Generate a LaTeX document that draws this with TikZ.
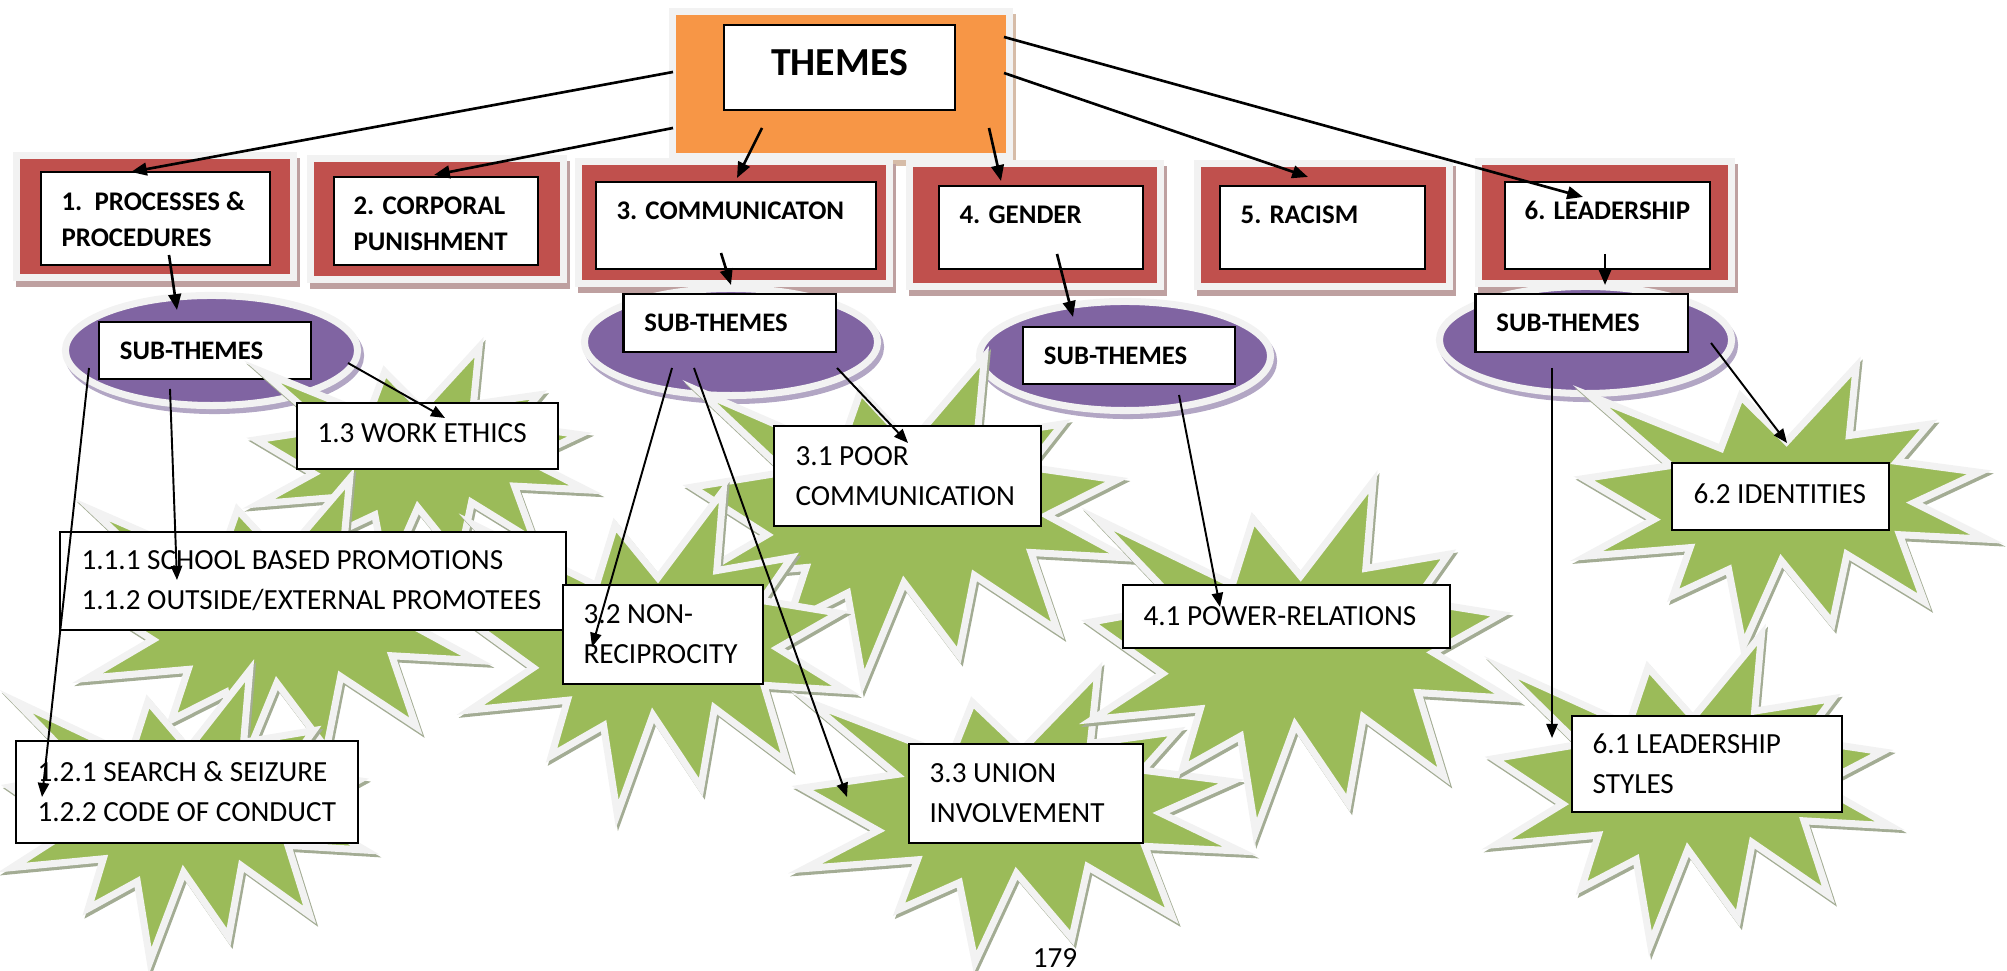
\documentclass[tikz,border=0pt]{standalone}
\usepackage{fontspec}
\setmainfont{Carlito}
\usepackage{xcolor}
\usepackage{tikz}
\usetikzlibrary{shapes.geometric, arrows.meta}
\definecolor{themecolor}{RGB}{247,150,70}
\definecolor{cellcolor}{RGB}{192,80,77}
\definecolor{subcolor}{RGB}{128,100,162}
\definecolor{burstcolor}{RGB}{155,187,89}
\definecolor{framecolor}{RGB}{242,242,242}
\definecolor{themeshade}{RGB}{214,188,168}
\definecolor{cellshade}{RGB}{190,160,160}
\definecolor{subshade}{RGB}{178,166,196}
\definecolor{burstshade}{RGB}{163,172,148}
\definecolor{flowcolor}{RGB}{0,0,0}

% explosion outline in the unit square
\newcommand{\burstpath}{(0.505,0.273) -- (0.392,0.111) -- (0.343,0.297) -- (0.022,0.111) -- (0.219,0.358) -- (0.005,0.404) -- (0.177,0.550) -- (0.011,0.680) -- (0.267,0.650) -- (0.225,0.820) -- (0.362,0.728) -- (0.398,1.000) -- (0.492,0.696) -- (0.618,0.918) -- (0.654,0.674) -- (0.845,0.842) -- (0.784,0.604) -- (1.000,0.620) -- (0.820,0.490) -- (0.981,0.382) -- (0.778,0.343) -- (0.856,0.211) -- (0.660,0.251) -- (0.677,0.005) -- cycle}

\begin{document}
\begin{tikzpicture}[
    x=0.01cm, y=-0.01cm,
    headcell/.style={draw=framecolor, line width=2pt, fill=themecolor, preaction={draw=themeshade, fill=themeshade, line width=2pt, transform canvas={xshift=0.03cm, yshift=-0.06cm}}},
    cell/.style={draw=framecolor, line width=2pt, fill=cellcolor, preaction={draw=cellshade, fill=cellshade, line width=2pt, transform canvas={xshift=0.03cm, yshift=-0.06cm}}},
    subcell/.style={ellipse, inner sep=0pt, draw=framecolor, line width=2pt, fill=subcolor, preaction={draw=subshade, fill=subshade, line width=2pt, transform canvas={xshift=0.03cm, yshift=-0.05cm}}},
    burst/.style={draw=framecolor, line width=2pt, fill=burstcolor, preaction={draw=burstshade, fill=burstshade, line width=2pt, transform canvas={xshift=0.02cm, yshift=-0.03cm}}},
    txtbox/.style={draw, line width=0.6pt, fill=white, inner sep=0pt},
    headtxt/.style={font=\fontsize{11.3}{13}\selectfont\bfseries},
    celltxt/.style={anchor=north west, inner sep=0pt, align=left, font=\fontsize{7.65}{10.2}\selectfont\bfseries},
    subtxt/.style={align=left, inner xsep=0.21cm, text width=1.70cm, font=\fontsize{7.6}{10}\selectfont\bfseries},
    leaftxt/.style={anchor=west, inner sep=0pt, align=left, font=\fontsize{8.3}{11.4}\selectfont},
    flow/.style={-{Triangle[length=4.5pt, width=3.6pt]}, line width=0.75pt, flowcolor},
    subflow/.style={-{Triangle[length=4pt, width=3.2pt]}, line width=0.55pt, flowcolor}
]
    \useasboundingbox (0,0) rectangle (2007,971);

    % top level
    \node[headcell, minimum width=3.37cm, minimum height=1.45cm] (themes) at (841,84) {};
    \node[txtbox, headtxt, minimum width=2.31cm, minimum height=0.85cm, text depth=0.1cm] (themesbox) at (839.5,67.5) {THEMES};

    % themes
    \node[cell, minimum width=2.77cm, minimum height=1.22cm] (theme1) at (155,216.5) {};
    \node[cell, minimum width=2.53cm, minimum height=1.21cm] (theme2) at (437,219) {};
    \node[cell, minimum width=3.11cm, minimum height=1.22cm] (theme3) at (734,222.5) {};
    \node[cell, minimum width=2.51cm, minimum height=1.23cm] (theme4) at (1035,225) {};
    \node[cell, minimum width=2.52cm, minimum height=1.23cm] (theme5) at (1323.5,225) {};
    \node[cell, minimum width=2.53cm, minimum height=1.22cm] (theme6) at (1605,222.5) {};

    \node[txtbox, minimum width=2.29cm, minimum height=0.93cm] (box1) at (155.5,218.5) {};
    \node[txtbox, minimum width=2.04cm, minimum height=0.88cm] (box2) at (436,221) {};
    \node[txtbox, minimum width=2.80cm, minimum height=0.87cm] (box3) at (736,225.5) {};
    \node[txtbox, minimum width=2.04cm, minimum height=0.83cm] (box4) at (1041,227.5) {};
    \node[txtbox, minimum width=2.05cm, minimum height=0.83cm] (box5) at (1322.5,227.5) {};
    \node[txtbox, minimum width=2.05cm, minimum height=0.87cm] (box6) at (1607.5,225.5) {};

    \node[celltxt] (lbl1) at ([shift={(21,20)}]box1.north west) {1.\ \ PROCESSES \&\\PROCEDURES};
    \node[celltxt] (lbl2) at ([shift={(20,20)}]box2.north west) {2. CORPORAL\\PUNISHMENT};
    \node[celltxt] (lbl3) at ([shift={(21,20)}]box3.north west) {3. COMMUNICATON};
    \node[celltxt] (lbl4) at ([shift={(21,20)}]box4.north west) {4. GENDER};
    \node[celltxt] (lbl5) at ([shift={(21,20)}]box5.north west) {5. RACISM};
    \node[celltxt] (lbl6) at ([shift={(20,20)}]box6.north west) {6. LEADERSHIP};

    % sub-themes
    \node[subcell, minimum width=2.92cm, minimum height=1.10cm] (sub1) at (211.5,350.5) {};
    \node[subcell, minimum width=2.93cm, minimum height=1.07cm] (sub3) at (731,342) {};
    \node[subcell, minimum width=2.91cm, minimum height=1.09cm] (sub4) at (1125,356) {};
    \node[subcell, minimum width=2.92cm, minimum height=1.07cm] (sub6) at (1585.5,340) {};

    \node[txtbox, subtxt, minimum height=0.57cm] (subbox1) at (205,350.5) {SUB-THEMES};
    \node[txtbox, subtxt, minimum height=0.58cm] (subbox3) at (729.5,323) {SUB-THEMES};
    \node[txtbox, subtxt, minimum height=0.57cm] (subbox4) at (1129,355.5) {SUB-THEMES};
    \node[txtbox, subtxt, minimum height=0.58cm] (subbox6) at (1581.5,323) {SUB-THEMES};

    % explosions behind the sub-theme boxes
    \foreach \bx/\by/\bw/\bh in {255/346/331/232, 83/477/394/296, 8/669/357/292, 690/355/435/327, 466/489/380/325, 800/670/440/292, 1088/480/421/352, 1582/365/405/281, 1492/633/398/311}
        \filldraw[burst, shift={(\bx,\by)}, xscale=\bw, yscale=\bh] \burstpath;

    \node[txtbox, minimum width=2.61cm, minimum height=0.66cm] (ethics) at (427.5,436) {};
    \node[txtbox, minimum width=5.06cm, minimum height=0.98cm] (promo) at (313,581) {};
    \node[txtbox, minimum width=3.42cm, minimum height=1.02cm] (search) at (187,792) {};
    \node[txtbox, minimum width=2.67cm, minimum height=1.00cm] (poor) at (907.5,476) {};
    \node[txtbox, minimum width=2.00cm, minimum height=0.99cm] (nonrec) at (663,634.5) {};
    \node[txtbox, minimum width=2.34cm, minimum height=0.99cm] (union) at (1026,793.5) {};
    \node[txtbox, minimum width=3.27cm, minimum height=0.63cm] (power) at (1286.5,616.5) {};
    \node[txtbox, minimum width=2.17cm, minimum height=0.67cm] (ident) at (1780.5,496.5) {};
    \node[txtbox, minimum width=2.70cm, minimum height=0.96cm] (styles) at (1707,764) {};

    \node[leaftxt] (ethicstxt) at ([shift={(21,-3)}]ethics.west) {1.3 WORK ETHICS};
    \node[leaftxt] (promotxt) at ([xshift=0.22cm]promo.west) {1.1.1 SCHOOL BASED PROMOTIONS\\1.1.2 OUTSIDE/EXTERNAL PROMOTEES};
    \node[leaftxt] (searchtxt) at ([xshift=0.22cm]search.west) {1.2.1 SEARCH \& SEIZURE\\1.2.2 CODE OF CONDUCT};
    \node[leaftxt] (poortxt) at ([xshift=0.22cm]poor.west) {3.1 POOR\\COMMUNICATION};
    \node[leaftxt] (nonrectxt) at ([xshift=0.21cm]nonrec.west) {3.2 NON-\\RECIPROCITY};
    \node[leaftxt] (uniontxt) at ([xshift=0.21cm]union.west) {3.3 UNION\\INVOLVEMENT};
    \node[leaftxt] (powertxt) at ([xshift=0.21cm]power.west) {4.1 POWER-RELATIONS};
    \node[leaftxt] (identtxt) at ([shift={(22,-3)}]ident.west) {6.2 IDENTITIES};
    \node[leaftxt] (stylestxt) at ([xshift=0.21cm]styles.west) {6.1 LEADERSHIP\\STYLES};

    \node[font=\fontsize{8.3}{10}\selectfont] (page) at (1055,958) {179};

    % theme arrows
    \draw[flow] ([shift={(-168,-12)}]themes.center) -- ([shift={(-24.5,-46.5)}]box1.center);
    \draw[flow] ([shift={(-168,44)}]themes.center) -- ([shift={(-2,-46)}]box2.center);
    \draw[flow] ([shift={(-79,44)}]themes.center) -- ([shift={(1,-47.5)}]box3.center);
    \draw[flow] ([shift={(148,44)}]themes.center) -- ([shift={(-40,-46.5)}]box4.center);
    \draw[flow] ([shift={(163,-11)}]themes.center) -- ([shift={(-14.5,-50.5)}]box5.center);
    \draw[flow] ([shift={(163,-47)}]themes.center) -- ([shift={(-24.5,-28.5)}]box6.center);

    % down to sub-themes
    \draw[flow] ([shift={(13.5,36.5)}]box1.center) -- ([shift={(-34.5,-40.5)}]sub1.center);
    \draw[flow] ([shift={(-15,27.5)}]box3.center) -- ([shift={(0,-57)}]sub3.center);
    \draw[flow] ([shift={(16,26.5)}]box4.center) -- ([shift={(-52,-39)}]sub4.center);
    \draw[flow] ([shift={(-2.5,28.5)}]box6.center) -- ([shift={(19.5,-55)}]sub6.center);

    % sub-themes to items
    \draw[subflow] ([shift={(136.5,12.5)}]sub1.center) -- ([shift={(17.5,-18)}]ethics.center);
    \draw[subflow] ([shift={(-41.5,38.5)}]sub1.center) -- ([shift={(-136,-1)}]promo.center);
    \draw[subflow] ([shift={(-122.5,17.5)}]sub1.center) -- ([shift={(-145,5)}]search.center);
    \draw[subflow] ([shift={(-59,26)}]sub3.center) -- ([shift={(-71,12.5)}]nonrec.center);
    \draw[subflow] ([shift={(-37,26)}]sub3.center) -- ([shift={(-179,3.5)}]union.center);
    \draw[subflow] ([shift={(106,26)}]sub3.center) -- ([shift={(0.5,-33)}]poor.center);
    \draw[subflow] ([shift={(54,39)}]sub4.center) -- ([shift={(-66.5,-9.5)}]power.center);
    \draw[subflow] ([shift={(-33.5,28)}]sub6.center) -- ([shift={(-155,-26)}]styles.center);
    \draw[subflow] ([shift={(125.5,3)}]sub6.center) -- ([shift={(6.5,-53.5)}]ident.center);
\end{tikzpicture}
\end{document}
